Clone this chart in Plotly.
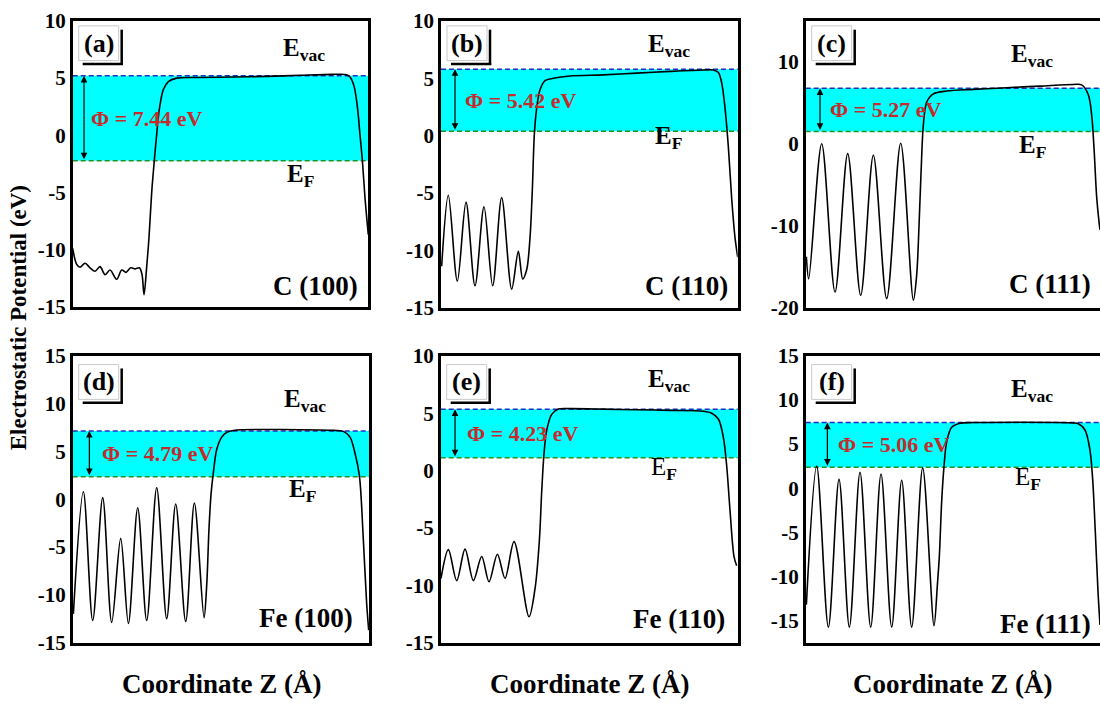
import plotly.graph_objects as go

# ---------------- data ----------------
surface_names = ["C (100)", "C (110)", "C (111)", "Fe (100)", "Fe (110)", "Fe (111)"]
panel_tags = ["(a)", "(b)", "(c)", "(d)", "(e)", "(f)"]
work_function = [7.44, 5.42, 5.27, 4.79, 4.23, 5.06]   # eV
vacuum_level = [5.20, 5.80, 6.78, 7.15, 5.34, 7.44]    # eV
fermi_level = [ev - wf for ev, wf in zip(vacuum_level, work_function)]

z_max = [44.34, 44.50, 44.15, 44.49, 44.55, 44.15]
y_ranges = [[-15, 10], [-15, 10], [-20, 15], [-15, 15], [-15, 10], [-17.5, 15]]
y_ticks = [
    [-15, -10, -5, 0, 5, 10],
    [-15, -10, -5, 0, 5, 10],
    [-20, -10, 0, 10],
    [-15, -10, -5, 0, 5, 10, 15],
    [-15, -10, -5, 0, 5, 10],
    [-15, -10, -5, 0, 5, 10, 15],
]
# inward frame ticks on the top edge (c, e) and right edge (c)
top_ticks = {2: [9.35, 18.95, 28.4, 37.7], 4: [9.6, 19.4, 29.5, 39.2]}
right_ticks = {2: [-10, 0, 10]}

# planar-averaged electrostatic potential along Z
z_c100 = [0.0, 0.6, 1.1, 1.85, 2.6, 3.35, 4.1, 4.85, 5.6, 6.6, 7.35, 8.0, 8.7, 9.35,
          10.0, 10.4, 10.7, 11.1, 11.45, 11.85, 12.2, 12.6, 13.0, 13.6, 14.35, 15.6,
          19.1, 24.1, 29.1, 34.1, 39.1, 41.1, 41.6, 42.2, 42.7, 43.1, 43.45, 43.85, 44.34]
v_c100 = [-9.9, -11.3, -11.55, -11.2, -11.6, -11.9, -11.5, -12.2, -11.8, -12.6, -11.8, -12.0,
          -11.6, -11.7, -11.6, -12.2, -13.96, -11.5, -8.9, -5.0, -2.5, 0.1, 2.3, 4.0, 4.7, 5.0,
          5.05, 5.1, 5.15, 5.25, 5.33, 5.3, 5.1, 4.3, 2.5, 0.0, -2.2, -5.5, -8.7]

z_c110 = [0.1, 1.1, 2.45, 3.75, 5.1, 6.45, 7.75, 9.1, 10.6, 11.6, 12.25, 12.85, 13.35, 13.7,
          14.0, 14.35, 14.85, 15.6, 16.85, 19.35, 24.35, 29.35, 34.35, 39.35, 40.85, 41.6,
          42.1, 42.6, 43.1, 43.6, 44.1, 44.5]
v_c110 = [-11.4, -5.2, -12.7, -5.8, -13.1, -6.2, -13.1, -5.4, -13.4, -10.1, -12.5, -11.7, -8.9,
          -4.7, 0.1, 2.4, 4.0, 4.8, 5.0, 5.2, 5.3, 5.45, 5.6, 5.72, 5.72, 5.5, 4.6, 2.4, -1.0,
          -5.5, -8.9, -10.6]

z_c111 = [0.1, 0.45, 2.4, 4.4, 6.3, 8.25, 10.15, 12.15, 14.25, 16.15, 16.65, 17.0, 17.3, 17.65,
          18.15, 19.15, 21.15, 25.15, 30.15, 35.15, 40.15, 41.4, 42.4, 42.9, 43.25, 43.65,
          44.0, 44.15]
v_c111 = [-13.8, -16.5, 0.0, -18.1, -1.2, -18.5, -1.4, -18.9, 0.06, -19.1, -16.0, -10.0, -3.6,
          2.3, 5.1, 6.1, 6.45, 6.65, 6.85, 7.05, 7.25, 7.2, 6.0, 3.5, -0.5, -6.5, -9.5, -10.5]

z_fe100 = [0.1, 1.6, 3.0, 4.5, 5.85, 7.2, 8.35, 9.75, 11.1, 12.6, 14.1, 15.45, 16.95, 18.25,
           19.7, 20.1, 20.45, 20.75, 21.1, 21.6, 22.35, 23.1, 24.1, 39.1, 40.6, 41.6, 42.35,
           43.0, 43.6, 44.1, 44.4]
v_fe100 = [-12.0, 0.78, -12.7, 0.17, -12.9, -4.1, -13.0, -0.9, -12.7, 1.2, -12.5, -0.5, -12.8,
           -0.4, -12.4, -9.0, -3.0, 0.5, 2.8, 5.2, 6.5, 7.0, 7.2, 7.2, 7.1, 6.5, 4.8, 2.5,
           -4.3, -11.0, -13.7]

z_fe110 = [0.05, 1.15, 2.4, 3.65, 4.9, 6.15, 7.25, 8.5, 9.65, 11.0, 13.25, 14.15, 14.8, 15.15,
           15.5, 15.9, 16.65, 17.65, 19.4, 24.4, 29.4, 34.4, 39.4, 40.65, 41.65, 42.4, 42.9,
           43.4, 44.0, 44.4]
v_fe110 = [-9.4, -6.9, -9.6, -6.85, -9.6, -7.5, -9.7, -7.3, -9.4, -6.2, -12.75, -10.3, -6.1,
           -1.85, 1.5, 3.5, 4.9, 5.36, 5.4, 5.36, 5.3, 5.25, 5.17, 5.0, 4.5, 2.9, 0.4, -3.5,
           -7.5, -8.3]

z_fe111 = [0.1, 1.65, 3.4, 5.0, 6.55, 8.15, 9.75, 11.3, 12.9, 14.4, 15.9, 17.55, 19.25, 19.75,
           20.05, 20.4, 20.75, 21.15, 21.9, 23.15, 25.15, 40.15, 40.9, 41.9, 42.65, 43.05,
           43.45, 43.85, 44.15]
v_fe111 = [-13.2, 2.5, -15.75, 1.0, -15.75, 1.8, -15.75, 1.6, -15.75, 0.9, -15.75, 2.3, -15.6,
           -11.0, -7.7, -1.5, 2.5, 5.25, 6.9, 7.37, 7.44, 7.4, 7.3, 6.6, 4.3, 1.0, -5.0,
           -11.7, -15.5]

z_data = [z_c100, z_c110, z_c111, z_fe100, z_fe110, z_fe111]
v_data = [v_c100, v_c110, v_c111, v_fe100, v_fe110, v_fe111]

# label placement in data units (per panel)
arrow_z = [1.7, 2.1, 2.15, 2.5, 2.15, 3.25]
phi_z = [2.5, 3.35, 3.4, 4.1, 3.65, 4.55]
evac_label = [(34.7, 6.22), (34.2, 6.57), (33.95, 8.94), (34.85, 8.8), (34.25, 6.52), (33.95, 9.38)]
ef_label = [(34.2, -4.35), (34.1, -0.93), (34.0, -1.4), (34.45, -0.07), (33.5, -0.65), (33.35, 0.06)]
name_label = [(43.1, -13.17), (43.35, -13.1), (43.05, -17.1), (42.35, -12.43), (42.9, -12.95), (43.15, -15.39)]

# ---------------- layout geometry (pixels) ----------------
W, H = 1100, 706
BOXES = [  # left, top, right, bottom
    (72.7, 9.3, 368.3, 305.0),
    (441.0, 9.3, 737.7, 306.0),
    (805.7, 9.3, 1100.0, 306.0),
    (72.7, 356.0, 369.3, 652.7),
    (440.7, 356.0, 737.7, 652.7),
    (805.7, 356.0, 1100.0, 652.7),
]
FONT = "Liberation Serif"
CYAN = "#00ffff"
RED = "#c62b2b"


def px(x):
    return x / W


def py(y):
    return 1 - y / H


fig = go.Figure()
layout = dict(
    width=W, height=H,
    margin=dict(l=0, r=0, t=0, b=0, pad=0),
    paper_bgcolor="white", plot_bgcolor="white",
    showlegend=False,
    font=dict(family=FONT, color="black"),
)
shapes, annotations = [], []
extra_axis = 7

for i in range(6):
    n = i + 1
    xa = "x" if n == 1 else f"x{n}"
    ya = "y" if n == 1 else f"y{n}"
    xk = "xaxis" if n == 1 else f"xaxis{n}"
    yk = "yaxis" if n == 1 else f"yaxis{n}"
    l, t, r, b = BOXES[i]
    cut_right = r >= W  # right-hand frame runs off the page

    fig.add_trace(go.Scatter(
        x=z_data[i], y=v_data[i], mode="lines",
        line=dict(color="black", width=1.6, shape="spline", smoothing=0.9),
        xaxis=xa, yaxis=ya, hoverinfo="skip",
    ))

    layout[xk] = dict(
        domain=[px(l), px(r)], range=[0, z_max[i]], anchor=ya,
        showline=True, mirror=True, linecolor="black", linewidth=2.5,
        showticklabels=False, ticks="", showgrid=False, zeroline=False,
    )
    layout[yk] = dict(
        domain=[py(b), py(t)], range=y_ranges[i], anchor=xa,
        showline=True, mirror=not cut_right, linecolor="black", linewidth=2.5,
        tickvals=y_ticks[i], ticktext=[f"<b>{v}</b>" for v in y_ticks[i]],
        tickfont=dict(family=FONT, size=21, color="black"),
        ticks="", showgrid=False, zeroline=False,
    )

    # small inward ticks on the frame
    if i in top_ticks:
        layout[f"xaxis{extra_axis}"] = dict(
            overlaying=xa, anchor=ya, side="top", range=[0, z_max[i]],
            tickvals=top_ticks[i], ticks="inside", ticklen=4, tickwidth=1.5, tickcolor="black",
            showticklabels=False, showline=False, showgrid=False, zeroline=False,
        )
        extra_axis += 1
    if i in right_ticks:
        layout[f"yaxis{extra_axis}"] = dict(
            overlaying=ya, anchor=xa, side="right", range=y_ranges[i],
            tickvals=right_ticks[i], ticks="inside", ticklen=4, tickwidth=1.5, tickcolor="black",
            showticklabels=False, showline=False, showgrid=False, zeroline=False,
        )
        extra_axis += 1

    ef, ev = fermi_level[i], vacuum_level[i]
    # work-function band and reference levels
    shapes.append(dict(type="rect", xref=f"{xa} domain", yref=ya, x0=0, x1=1, y0=ef, y1=ev,
                       fillcolor=CYAN, line=dict(width=0), layer="below"))
    shapes.append(dict(type="line", xref=f"{xa} domain", yref=ya, x0=0, x1=1, y0=ev, y1=ev,
                       line=dict(color="#1c2fc4", width=1.5, dash="5px,3px"), layer="below"))
    shapes.append(dict(type="line", xref=f"{xa} domain", yref=ya, x0=0, x1=1, y0=ef, y1=ef,
                       line=dict(color="#23902a", width=1.5, dash="5px,3px"), layer="below"))

    # double-headed arrow spanning the work function
    annotations.append(dict(
        xref=xa, yref=ya, axref=xa, ayref=ya,
        x=arrow_z[i], y=ev, ax=arrow_z[i], ay=ef, text="",
        showarrow=True, arrowhead=2, startarrowhead=2, arrowside="end+start",
        arrowsize=1.1, startarrowsize=1.1, arrowwidth=1.2, arrowcolor="black",
        standoff=0, startstandoff=0,
    ))
    annotations.append(dict(
        xref=xa, yref=ya, x=phi_z[i], y=(ev + ef) / 2, xanchor="left", yanchor="middle",
        text=f"<b>\u03a6 = {work_function[i]:.2f} eV</b>", showarrow=False,
        font=dict(family=FONT, size=22, color=RED),
    ))

    # level labels
    annotations.append(dict(
        xref=xa, yref=ya, x=evac_label[i][0], y=evac_label[i][1], yshift=15,
        xanchor="center", yanchor="middle", showarrow=False,
        text="<b>E<sub>vac</sub></b>", font=dict(family=FONT, size=25, color="black"),
    ))
    ef_text = "<b>E<sub>F</sub></b>" if i < 4 else "E<sub><b>F</b></sub>"
    annotations.append(dict(
        xref=xa, yref=ya, x=ef_label[i][0], y=ef_label[i][1], yshift=9,
        xanchor="center", yanchor="middle", showarrow=False,
        text=ef_text, font=dict(family=FONT, size=25, color="black"),
    ))

    # surface name
    annotations.append(dict(
        xref=xa, yref=ya, x=name_label[i][0], y=name_label[i][1],
        xanchor="right", yanchor="middle", showarrow=False,
        text=f"<b>{surface_names[i]}</b>", font=dict(family=FONT, size=27, color="black"),
    ))

    # panel tag with drop-shadow frame
    dt = 5 if i < 3 else 9
    shapes.append(dict(type="rect", xref="paper", yref="paper",
                       x0=px(l + 6), x1=px(l + 46), y0=py(t + dt), y1=py(t + dt + 36),
                       line=dict(color="#c9c9c9", width=1), fillcolor="white", layer="above"))
    shapes.append(dict(type="line", xref="paper", yref="paper",
                       x0=px(l + 49), x1=px(l + 49), y0=py(t + dt + 4), y1=py(t + dt + 40.5),
                       line=dict(color="black", width=2.5), layer="above"))
    shapes.append(dict(type="line", xref="paper", yref="paper",
                       x0=px(l + 10), x1=px(l + 50.2), y0=py(t + dt + 39.5), y1=py(t + dt + 39.5),
                       line=dict(color="black", width=2.5), layer="above"))
    annotations.append(dict(
        xref="paper", yref="paper", x=px(l + 26), y=py(t + dt + 18),
        xanchor="center", yanchor="middle", showarrow=False,
        text=f"<b>{panel_tags[i]}</b>", font=dict(family=FONT, size=26, color="black"),
    ))

    # x title under bottom-row panels
    if i >= 3:
        annotations.append(dict(
            xref="paper", yref="paper", x=px((l + r) / 2), y=py(696),
            xanchor="center", yanchor="middle", showarrow=False,
            text="<b>Coordinate Z (\u00c5)</b>", font=dict(family=FONT, size=27, color="black"),
        ))

annotations.append(dict(
    xref="paper", yref="paper", x=px(18), y=py(317), textangle=-90,
    xanchor="center", yanchor="middle", showarrow=False,
    text="<b>Electrostatic Potential (eV)</b>", font=dict(family=FONT, size=23, color="black"),
))

layout["shapes"] = shapes
layout["annotations"] = annotations
fig.update_layout(**layout)
fig.write_html("out.html")
